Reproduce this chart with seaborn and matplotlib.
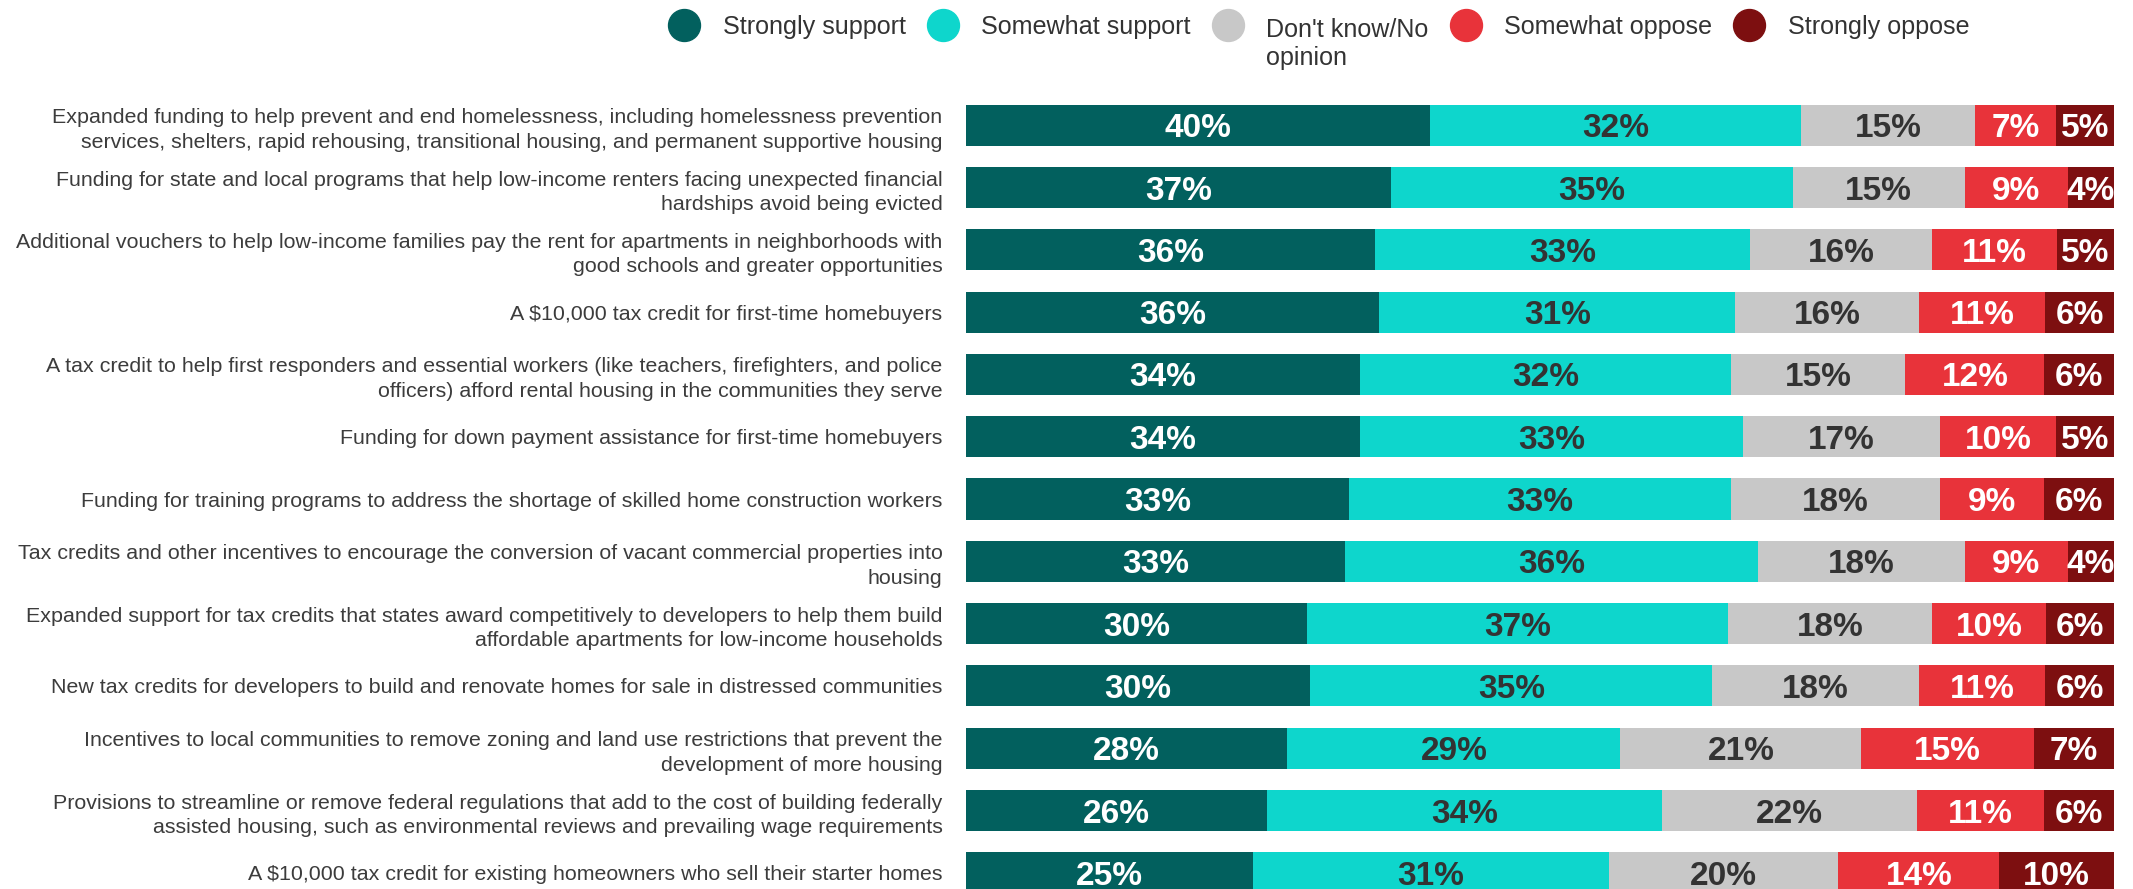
import numpy as np
import pandas as pd
import matplotlib
matplotlib.use("Agg")
import matplotlib.pyplot as plt
from matplotlib.lines import Line2D
import seaborn as sns

# Policy proposals (top to bottom)
policies = [
    "Expanded funding to help prevent and end homelessness, including homelessness prevention\n"
    "services, shelters, rapid rehousing, transitional housing, and permanent supportive housing",
    "Funding for state and local programs that help low-income renters facing unexpected financial\n"
    "hardships avoid being evicted",
    "Additional vouchers to help low-income families pay the rent for apartments in neighborhoods with\n"
    "good schools and greater opportunities",
    "A $10,000 tax credit for first-time homebuyers",
    "A tax credit to help first responders and essential workers (like teachers, firefighters, and police\n"
    "officers) afford rental housing in the communities they serve",
    "Funding for down payment assistance for first-time homebuyers",
    "Funding for training programs to address the shortage of skilled home construction workers",
    "Tax credits and other incentives to encourage the conversion of vacant commercial properties into\n"
    "housing",
    "Expanded support for tax credits that states award competitively to developers to help them build\n"
    "affordable apartments for low-income households",
    "New tax credits for developers to build and renovate homes for sale in distressed communities",
    "Incentives to local communities to remove zoning and land use restrictions that prevent the\n"
    "development of more housing",
    "Provisions to streamline or remove federal regulations that add to the cost of building federally\n"
    "assisted housing, such as environmental reviews and prevailing wage requirements",
    "A $10,000 tax credit for existing homeowners who sell their starter homes",
]

strongly_support = [40, 37, 36, 36, 34, 34, 33, 33, 30, 30, 28, 26, 25]
somewhat_support = [32, 35, 33, 31, 32, 33, 33, 36, 37, 35, 29, 34, 31]
dont_know        = [15, 15, 16, 16, 15, 17, 18, 18, 18, 18, 21, 22, 20]
somewhat_oppose  = [7, 9, 11, 11, 12, 10, 9, 9, 10, 11, 15, 11, 14]
strongly_oppose  = [5, 4, 5, 6, 6, 5, 6, 4, 6, 6, 7, 6, 10]

responses = ["Strongly support", "Somewhat support", "Don't know/No opinion",
             "Somewhat oppose", "Strongly oppose"]
colors = ["#02605E", "#0ED6CC", "#C8C8C8", "#E8333A", "#7D0F10"]
text_colors = ["white", "#333333", "#333333", "white", "white"]

df = pd.DataFrame({
    "policy": policies,
    responses[0]: strongly_support,
    responses[1]: somewhat_support,
    responses[2]: dont_know,
    responses[3]: somewhat_oppose,
    responses[4]: strongly_oppose,
})

# Each row is shown as a full-width 100% bar
vals = df[responses].to_numpy(dtype=float)
shares = vals / vals.sum(axis=1, keepdims=True) * 100
cum = np.cumsum(shares, axis=1)

sns.set_theme(style="white")
plt.rcParams["font.family"] = ["Liberation Sans", "DejaVu Sans"]

W, H = 2133, 889
fig = plt.figure(figsize=(W / 100, H / 100), dpi=100)
ax_left, ax_right = 966 / W, 2114 / W
ax_top_px = 62
ax = fig.add_axes([ax_left, 0, ax_right - ax_left, (H - ax_top_px) / H])

# Stack by overdrawing cumulative bars, widest first
for k in range(len(responses) - 1, -1, -1):
    sns.barplot(x=cum[:, k], y=df["policy"], orient="h", color=colors[k],
                saturation=1, width=0.66, errorbar=None, ax=ax, linewidth=0)

for i in range(len(policies)):
    for k in range(len(responses)):
        centre = cum[i, k] - shares[i, k] / 2
        ax.text(centre, i, f"{int(vals[i, k])}%", ha="center", va="center_baseline",
                fontsize=24, fontweight="bold", color=text_colors[k])

ax.set_xlim(0, 100)
ax.set_ylim(12 + (H - 872.8) / 62.3, -(125.3 - ax_top_px) / 62.3)
ax.set_xticks([])
ax.set_xlabel("")
ax.set_ylabel("")
ax.tick_params(axis="y", length=0, pad=17, labelsize=15.4, labelcolor="#3c3c3c")
for t in ax.get_yticklabels():
    t.set_linespacing(1.36)
sns.despine(ax=ax, left=True, bottom=True)

# Legend across the top
handles = [Line2D([0], [0], marker="o", linestyle="none", markersize=23,
                  markerfacecolor=c, markeredgecolor=c) for c in colors]
leg_labels = ["Strongly support", "Somewhat support", "Don't know/No",
              "Somewhat oppose", "Strongly oppose"]
leg = fig.legend(handles, leg_labels, ncol=5, loc="center left",
                 bbox_to_anchor=(668 / W, 1 - 27 / H), frameon=False, fontsize=18.1,
                 handlelength=1.27, handletextpad=0.9, columnspacing=0.84,
                 borderpad=0, borderaxespad=0, labelcolor="#333333")

# The "Don't know" entry wraps onto a second line, set a little lower
fig.canvas.draw()
dk = leg.texts[2]
bb = dk.get_window_extent()
dk.set_alpha(0)
fig.text(bb.x0 / W, (bb.y1 - 3) / H, "Don't know/No\nopinion", ha="left", va="top",
         fontsize=18.1, color="#333333", linespacing=1.2)

fig.savefig("out.png", dpi=100)
